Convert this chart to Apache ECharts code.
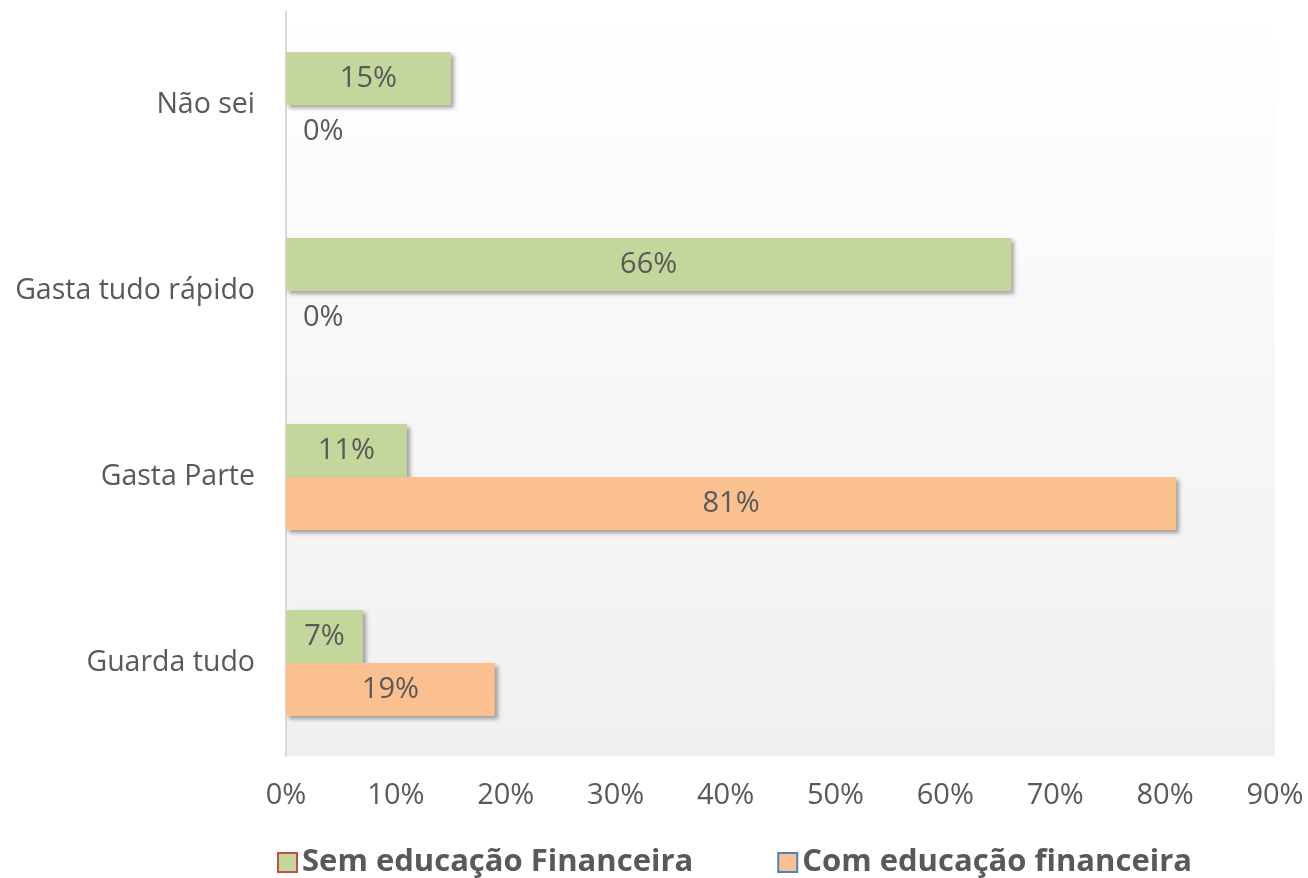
<!DOCTYPE html>
<html>
<head>
<meta charset="utf-8">
<script src="https://cdn.jsdelivr.net/npm/echarts@6/dist/echarts.min.js"></script>
<style>
  html, body { margin: 0; padding: 0; background: #fff; }
  #chart { width: 1308px; height: 878px; }
</style>
</head>
<body>
<div id="chart"></div>
<script>
// categorias (de baixo para cima, como no eixo do Excel)
const categories = ['Guarda tudo', 'Gasta Parte', 'Gasta tudo rápido', 'Não sei'];
const semEducacao = [7, 11, 66, 15];
const comEducacao = [19, 81, 0, 0];
const xTicks = [0, 10, 20, 30, 40, 50, 60, 70, 80, 90];

const labelColor = '#595959';
const fontFamily = '"Open Sans", sans-serif';

// sombra tipo Excel
const barShadow = {
  shadowColor: 'rgba(0,0,0,0.35)',
  shadowBlur: 4,
  shadowOffsetX: 3,
  shadowOffsetY: 3
};

// rótulo no meio da barra; para valor zero o Excel joga o texto pra fora
function buildData(values) {
  return values.map(v => {
    if (v === 0) {
      return { value: v, label: { position: 'right', distance: 17 } };
    }
    return v;
  });
}

const chart = echarts.init(document.getElementById('chart'));

chart.setOption({
  animation: false,
  textStyle: { fontFamily },
  grid: {
    left: 286,
    right: 33,
    top: 12,
    bottom: 122,
    containLabel: false,
    show: true,
    borderWidth: 0,
    backgroundColor: new echarts.graphic.LinearGradient(0, 0, 0, 1, [
      { offset: 0, color: '#ffffff' },
      { offset: 1, color: '#f0f0f0' }
    ])
  },
  legend: {
    left: 272,
    top: 842,
    icon: 'rect',
    itemWidth: 19,
    itemHeight: 19,
    itemGap: 84,
    textStyle: {
      color: labelColor,
      fontSize: 31,
      fontWeight: 'bold',
      fontFamily
    },
    data: [
      { name: 'Sem educação Financeira', itemStyle: { borderColor: '#C0504D', borderWidth: 2 } },
      { name: 'Com educação financeira', itemStyle: { borderColor: '#4F81BD', borderWidth: 2 } }
    ]
  },
  xAxis: {
    type: 'value',
    min: 0,
    max: 90,
    interval: 10,
    axisLine: { show: false },
    axisTick: { show: false },
    splitLine: { show: false },
    axisLabel: {
      formatter: v => xTicks.includes(v) ? v + '%' : '',
      color: labelColor,
      fontSize: 29,
      margin: 25,
      fontFamily
    }
  },
  yAxis: {
    type: 'category',
    data: categories,
    axisLine: { show: true, lineStyle: { color: '#d9d9d9', width: 2 } },
    axisTick: { show: false },
    axisLabel: {
      color: labelColor,
      fontSize: 28.5,
      margin: 31,
      fontFamily
    }
  },
  series: [
    {
      name: 'Sem educação Financeira',
      type: 'bar',
      data: buildData(semEducacao),
      barGap: '0%',
      barCategoryGap: '43%',
      itemStyle: Object.assign({ color: '#C3D69B' }, barShadow),
      label: {
        show: true,
        position: 'inside',
        formatter: '{c}%',
        color: labelColor,
        fontSize: 29,
        fontFamily
      }
    },
    {
      name: 'Com educação financeira',
      type: 'bar',
      data: buildData(comEducacao),
      barGap: '0%',
      barCategoryGap: '43%',
      itemStyle: Object.assign({ color: '#FAC090' }, barShadow),
      label: {
        show: true,
        position: 'inside',
        formatter: '{c}%',
        color: labelColor,
        fontSize: 29,
        fontFamily
      }
    }
  ]
});
</script>
</body>
</html>
